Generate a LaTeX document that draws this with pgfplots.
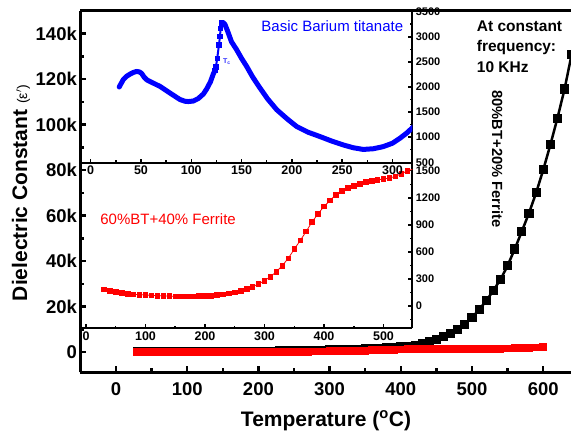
\documentclass[border=0pt]{standalone}
\usepackage{pgfplots}
\pgfplotsset{compat=1.18}
\usepackage{fontspec}
\setmainfont{Liberation Sans}

\pgfplotstableread{
T eps
30 100
40 110
50 120
60 130
70 140
80 150
90 160
100 170
110 180
120 195
130 210
140 225
150 240
160 260
170 280
180 300
190 320
200 350
210 380
220 410
230 450
240 490
250 540
260 590
270 650
280 720
290 800
300 880
310 970
320 1070
330 1180
340 1300
350 1430
360 1580
370 1740
380 1920
390 2120
400 2350
410 2620
420 2980
430 3600
440 4500
450 5400
460 6700
470 8200
480 10000
490 12300
500 15200
510 18700
520 22500
530 27100
540 31900
550 38000
560 45300
570 53100
580 61100
590 70000
600 80100
610 91100
620 102900
630 115700
640 131000
}\blackdata

\pgfplotstableread{
T eps
30 185
40 170
50 156
60 148
70 137
80 130
90 126
100 122
110 119
120 115
130 111
140 111
150 107
160 107
170 107
180 107
190 111
200 111
210 115
220 122
230 130
240 141
250 152
260 167
270 189
280 215
290 244
300 281
310 326
320 381
330 448
340 530
350 630
360 726
370 826
380 933
390 1022
400 1104
410 1170
420 1233
430 1274
440 1308
450 1333
460 1356
470 1374
480 1389
490 1400
500 1408
510 1419
520 1437
530 1467
540 1497
550 1519
560 1600
570 1700
580 1800
590 1950
600 2150
}\reddata

\pgfplotstableread{
T eps
28.4 2000
30 2060
32.4 2146
35.5 2210
39 2255
42.5 2290
45.7 2310
48.5 2300
50.7 2270
53 2200
56 2140
62 2080
68.9 2012
78.8 1880
88.8 1750
94 1715
97 1710
102 1720
107 1770
112 1860
115.3 1960
119 2100
121.9 2260
123.5 2330
}\blueA

\pgfplotstableread{
T eps
123.5 2330
124.5 2400
125.8 2572
127.5 2836
128.5 3000
129.2 3170
130.2 3275
}\blueB

\pgfplotstableread{
T eps
130.2 3275
131.5 3290
133.5 3246
136 3120
140 2900
145 2746
150 2570
155 2412
161 2200
168.3 1980
176 1760
185 1546
195 1370
204.8 1212
216 1100
228 1012
240 920
251 846
261 790
271 756
281 770
290.8 812
300 880
307.5 980
314 1080
320 1190
325 1280
}\blueC

\begin{document}
\begin{tikzpicture}
\path[use as bounding box] (0,0) rectangle (571pt,433pt);

% main axis
\begin{axis}[
  at={(80.4pt,60.5pt)}, anchor=south west,
  scale only axis, width=491.3pt, height=361.5pt,
  xmin=-50, xmax=640, ymin=-9000, ymax=150000,
  axis x line*=box, axis y line*=left,
  xtick pos=left, ytick pos=left,
  axis line style={line width=3pt},
  xtick={0,100,...,600}, minor xtick={50,150,...,550},
  ytick={0,20000,...,140000},
  yticklabels={0,20k,40k,60k,80k,100k,120k,140k},
  minor ytick={10000,30000,...,130000},
  tick align=inside,
  major tick length=6pt, minor tick length=4pt,
  every tick/.style={line width=2.5pt, black},
  scaled y ticks=false,
  tick label style={font=\fontsize{18.5}{20}\selectfont\bfseries},
  /pgf/number format/assume math mode=true,
  xticklabel style={yshift=-7pt},
  xlabel={Temperature (\textsuperscript{o}C)},
  xlabel style={font=\fontsize{21}{24}\selectfont\bfseries, at={(axis description cs:0.5,-0.133)}, anchor=center},
  ylabel={Dielectric Constant {\fontsize{14}{14}\selectfont\mdseries(ε$'$)}},
  ylabel style={font=\fontsize{21}{24}\selectfont\bfseries, at={(axis description cs:-0.121,0.4965)}, anchor=center},
]
\addplot[black, line width=2.5pt, mark=square*, mark size=3.3pt, mark options={solid}] table[x=T, y=eps] {\blackdata};
\addplot[red, line width=1pt, mark=square*, mark size=3.4pt, mark options={solid}] table[x=T, y=eps] {\reddata};
\node[font=\fontsize{15.5}{20.5}\selectfont\bfseries, align=left, anchor=north west, inner sep=0pt] at (axis cs:506.6,145800) {At constant\\frequency:\\10 KHz};
\node[font=\fontsize{14.7}{16}\selectfont\bfseries, rotate=-90, inner sep=0pt] at (axis cs:535.5,84900) {80\%BT+20\% Ferrite};
\end{axis}

% inset 2 (60% BT + 40% ferrite)
\begin{axis}[
  at={(81pt,104.7pt)}, anchor=south west,
  scale only axis, width=331.3pt, height=165.6pt,
  xmin=-8.4, xmax=548.4, ymin=-247, ymax=1589,
  axis x line*=bottom, axis y line*=right,
  axis line style={line width=2pt},
  xtick={0,100,...,500}, minor xtick={50,150,...,450},
  ytick={0,300,...,1500}, minor ytick={-150,150,450,...,1350},
  tick align=inside,
  major tick length=4pt, minor tick length=2.5pt,
  every tick/.style={line width=1.5pt, black},
  tick label style={font=\fontsize{11}{12}\selectfont\bfseries},
  xticklabel style={font=\fontsize{12.5}{13}\selectfont\bfseries},
  /pgf/number format/assume math mode=true,
  /pgf/number format/1000 sep={},
]
\addplot[red, line width=0.8pt, mark=square*, mark size=2.3pt, mark options={solid}] table[x=T, y=eps] {\reddata};
\node[red, font=\fontsize{15}{16}\selectfont] at (axis cs:138,965) {60\%BT+40\% Ferrite};
\end{axis}

% inset 1 (basic barium titanate)
\begin{axis}[
  at={(81pt,270.3pt)}, anchor=south west,
  scale only axis, width=331.3pt, height=151.7pt,
  xmin=-9.6, xmax=319.7, ymin=492, ymax=3514,
  axis x line*=bottom, axis y line*=right,
  axis line style={line width=2pt},
  xtick={0,50,...,300}, minor xtick={25,75,...,275},
  ytick={500,1000,...,3500}, minor ytick={750,1250,...,3250},
  tick align=inside,
  major tick length=4pt, minor tick length=2.5pt,
  every tick/.style={line width=1.5pt, black},
  tick label style={font=\fontsize{11}{12}\selectfont\bfseries},
  xticklabel style={font=\fontsize{12.5}{13}\selectfont\bfseries},
  /pgf/number format/assume math mode=true,
  /pgf/number format/1000 sep={},
]
\addplot[blue, line width=5pt, line join=round, line cap=round, no marks] table[x=T, y=eps] {\blueA};
\addplot[blue, line width=2pt, mark=square*, mark size=1.6pt, mark options={solid}] table[x=T, y=eps] {\blueB};
\addplot[blue, line width=5pt, line join=round, line cap=round, no marks] table[x=T, y=eps] {\blueC};
\node[blue, font=\fontsize{15}{16}\selectfont] at (axis cs:240.2,3215) {Basic Barium titanate};
\node[blue!80!white, font=\fontsize{7}{8}\selectfont\bfseries] at (axis cs:135.5,2498) {T\textsubscript{c}};
\end{axis}
\end{tikzpicture}
\end{document}
